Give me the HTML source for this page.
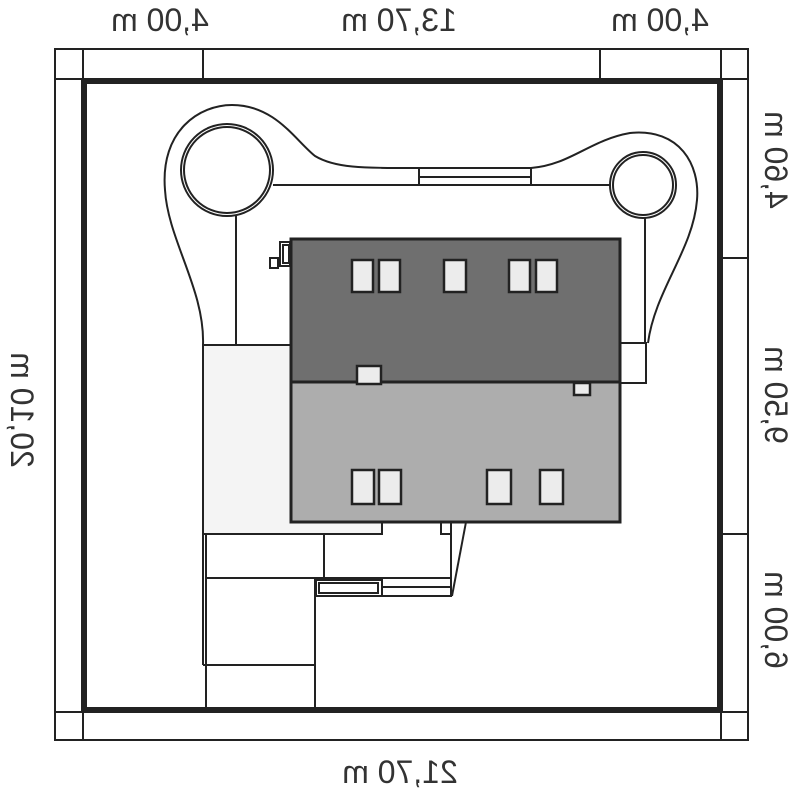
<!DOCTYPE html>
<html><head><meta charset="utf-8"><style>
html,body{margin:0;padding:0;background:#fff}
svg{display:block}
text{font-family:"Liberation Sans Narrow","Liberation Sans",sans-serif;font-size:32px;fill:#333}
</style></head><body>
<svg width="800" height="795" viewBox="0 0 800 795" xmlns="http://www.w3.org/2000/svg">
<g fill="none" stroke="#222" stroke-width="2">
<rect x="55" y="49" width="693" height="691"/>
<line x1="203" y1="49" x2="203" y2="78"/>
<line x1="600" y1="49" x2="600" y2="78"/>
<line x1="55" y1="79" x2="83" y2="79"/>
<line x1="721" y1="79" x2="748" y2="79"/>
<line x1="55" y1="712" x2="83" y2="712"/>
<line x1="721" y1="712" x2="748" y2="712"/>
<line x1="83" y1="49" x2="83" y2="78"/>
<line x1="721" y1="49" x2="721" y2="78"/>
<line x1="83" y1="712" x2="83" y2="740"/>
<line x1="721" y1="712" x2="721" y2="740"/>
<line x1="721" y1="258" x2="748" y2="258"/>
<line x1="721" y1="534" x2="748" y2="534"/>
</g>
<rect x="84" y="81" width="636" height="629" fill="none" stroke="#222" stroke-width="6"/>
<g fill="none" stroke="#222" stroke-width="2">
<path d="M203,345 C205,290 168,240 165,190 C160,130 200,105 232,105 C275,105 295,140 315,156 C335,168 360,168 419,168 L531,168 C570,165 590,140 630,133 C680,128 700,165 697,200 C693,250 655,290 648,343"/>
<line x1="273" y1="185" x2="610" y2="185"/>
<rect x="419" y="168" width="112" height="17"/>
<line x1="419" y1="177" x2="531" y2="177"/>
<circle cx="227" cy="170" r="46"/>
<circle cx="227" cy="170" r="43"/>
<circle cx="643" cy="185" r="33"/>
<circle cx="643" cy="185" r="30"/>
<line x1="236" y1="216" x2="236" y2="345"/>
<line x1="645" y1="218" x2="645" y2="343"/>
<rect x="620" y="343" width="26" height="40"/>
</g>
<path d="M203,345 H291 V522 H382 V534 H203 Z" fill="#f4f4f4" stroke="#222" stroke-width="2"/>
<g fill="none" stroke="#222" stroke-width="2">
<line x1="203" y1="534" x2="203" y2="665"/>
<line x1="206" y1="534" x2="206" y2="712"/>
<line x1="324" y1="534" x2="324" y2="578"/>
<line x1="206" y1="578" x2="451" y2="578"/>
<line x1="315" y1="578" x2="315" y2="712"/>
<line x1="203" y1="665" x2="315" y2="665"/>
<rect x="316" y="580" width="66" height="16"/>
<rect x="319" y="583" width="59" height="10"/>
<line x1="382" y1="587" x2="451" y2="587"/>
<line x1="382" y1="596" x2="452" y2="596"/>
<line x1="451" y1="522" x2="451" y2="596"/>
<line x1="452" y1="596" x2="466" y2="522"/>
<rect x="441" y="522" width="10" height="12"/>
<rect x="280" y="242" width="10" height="24"/>
<rect x="283" y="245" width="6" height="18"/>
<rect x="270" y="258" width="8" height="10"/>
</g>
<rect x="291" y="239" width="329" height="143" fill="#6f6f6f" stroke="#222" stroke-width="3"/>
<rect x="291" y="382" width="329" height="140" fill="#adadad" stroke="#222" stroke-width="3"/>
<g fill="#ececec" stroke="#222" stroke-width="2.5">
<rect x="352" y="260" width="21" height="32"/>
<rect x="379" y="260" width="21" height="32"/>
<rect x="444" y="260" width="22" height="32"/>
<rect x="509" y="260" width="21" height="32"/>
<rect x="536" y="260" width="21" height="32"/>
<rect x="352" y="470" width="22" height="34"/>
<rect x="379" y="470" width="22" height="34"/>
<rect x="487" y="470" width="24" height="34"/>
<rect x="540" y="470" width="23" height="34"/>
<rect x="357" y="366" width="24" height="18"/>
<rect x="574" y="383" width="16" height="12"/>
</g>
<text transform="translate(160,31) scale(-1,1)" text-anchor="middle">4,00 m</text>
<text transform="translate(399,31) scale(-1,1)" text-anchor="middle">13,70 m</text>
<text transform="translate(660,31) scale(-1,1)" text-anchor="middle">4,00 m</text>
<text transform="translate(400,783) scale(-1,1)" text-anchor="middle">21,70 m</text>
<text transform="translate(11,410) rotate(-90) scale(1,-1)" text-anchor="middle">20,10 m</text>
<text transform="translate(765,160) rotate(-90) scale(1,-1)" text-anchor="middle">4,60 m</text>
<text transform="translate(765,395) rotate(-90) scale(1,-1)" text-anchor="middle">9,50 m</text>
<text transform="translate(765,620) rotate(-90) scale(1,-1)" text-anchor="middle">6,00 m</text>
</svg>
</body></html>
